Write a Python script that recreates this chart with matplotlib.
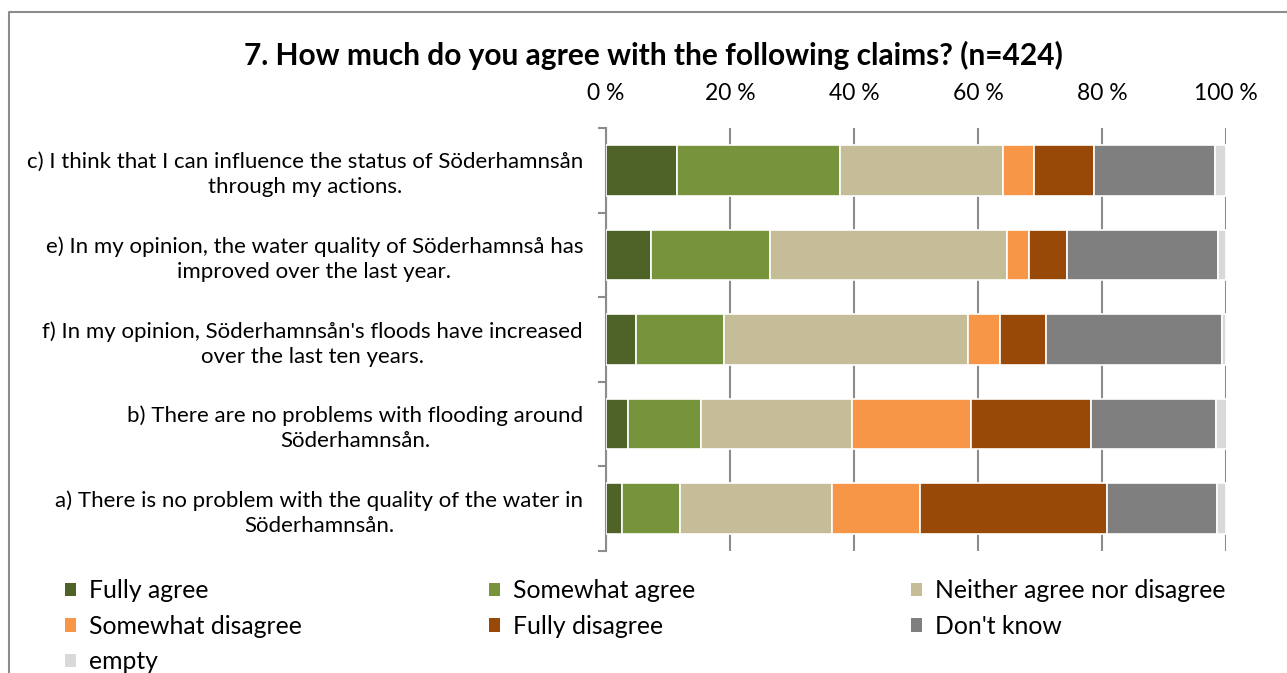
import numpy as np
import matplotlib
matplotlib.use("Agg")
import matplotlib.pyplot as plt
from matplotlib.patches import Patch
from matplotlib.lines import Line2D

plt.rcParams["font.family"] = ["Lato", "DejaVu Sans"]

# statements, top to bottom
claims = [
    "c) I think that I can influence the status of Söderhamnsån\nthrough my actions.",
    "e) In my opinion, the water quality of Söderhamnså has\nimproved over the last year.",
    "f) In my opinion, Söderhamnsån's floods have increased\nover the last ten years.",
    "b) There are no problems with flooding around\nSöderhamnsån.",
    "a) There is no problem with the quality of the water in\nSöderhamnsån.",
]
answers = ["Fully agree", "Somewhat agree", "Neither agree nor disagree",
           "Somewhat disagree", "Fully disagree", "Don't know", "empty"]
colors = ["#4F6228", "#77933C", "#C4BD97", "#F79646", "#984807", "#7F7F7F", "#D9D9D9"]

# share of respondents (%) per claim, one list per answer
fully_agree = [11.4, 7.2, 4.9, 3.6, 2.6]
somewhat_agree = [26.3, 19.3, 14.2, 11.8, 9.3]
neither = [26.3, 38.2, 39.3, 24.3, 24.5]
somewhat_disagree = [5.0, 3.6, 5.2, 19.2, 14.2]
fully_disagree = [9.7, 6.1, 7.3, 19.4, 30.2]
dont_know = [19.5, 24.3, 28.4, 20.1, 17.7]
empty = [1.8, 1.3, 0.7, 1.7, 1.5]

series = [fully_agree, somewhat_agree, neither, somewhat_disagree,
          fully_disagree, dont_know, empty]

W, H = 1287, 673
fig = plt.figure(figsize=(W / 100, H / 100), dpi=100)

# chart frame
fig.add_artist(Line2D([9 / W, 9 / W, 1], [0, 1 - 12 / H, 1 - 12 / H],
                      transform=fig.transFigure, color="#8C8C8C", lw=1.5))

ax = fig.add_axes([606 / W, 1 - 551 / H, 620 / W, 423 / H])
y = np.arange(len(claims))
left = np.zeros(len(claims))
for vals, c, name in zip(series, colors, answers):
    ax.barh(y, vals, left=left, height=0.6, color=c, edgecolor="white",
            linewidth=1.2, label=name, zorder=3)
    left += np.array(vals)

ax.set_xlim(0, 100)
ax.set_ylim(len(claims) - 0.5, -0.5)
ax.xaxis.tick_top()
ax.set_xticks(np.arange(0, 101, 20))
ax.set_xticklabels([f"{v} %" for v in range(0, 101, 20)], fontsize=16.5)
ax.tick_params(axis="x", length=0, pad=17.5)
ax.grid(axis="x", color="#8C8C8C", lw=1.5, zorder=0)

ax.set_yticks(y)
ax.set_yticklabels(claims, fontsize=16, multialignment="center", linespacing=1.3)
ax.tick_params(axis="y", length=0, pad=16.5)
ax.set_yticks(np.arange(-0.5, len(claims)), minor=True)
ax.tick_params(axis="y", which="minor", length=6, color="#8C8C8C", width=1.5)

for s in ["top", "right", "bottom"]:
    ax.spines[s].set_visible(False)
ax.spines["left"].set_color("#8C8C8C")
ax.spines["left"].set_linewidth(1.5)

fig.text(653 / W, 1 - 55 / H, "7. How much do you agree with the following claims? (n=424)",
         ha="center", va="center", fontsize=21.5, fontweight="bold")

# legend: three columns, filled row by row
handles = [Patch(facecolor=c, label=a) for a, c in zip(answers, colors)]
columns = [[0, 3, 6], [1, 4], [2, 5]]
col_x = [48, 472, 894]
for idx, x0 in zip(columns, col_x):
    leg = fig.legend([handles[i] for i in idx], [answers[i] for i in idx],
                     loc="upper left", bbox_to_anchor=(x0 / W, 1 - 562 / H),
                     frameon=False, fontsize=17.8, handlelength=0.45,
                     handleheight=0.45, handletextpad=0.5, labelspacing=0.5,
                     borderpad=0.2)

fig.savefig("out.png", dpi=100)
